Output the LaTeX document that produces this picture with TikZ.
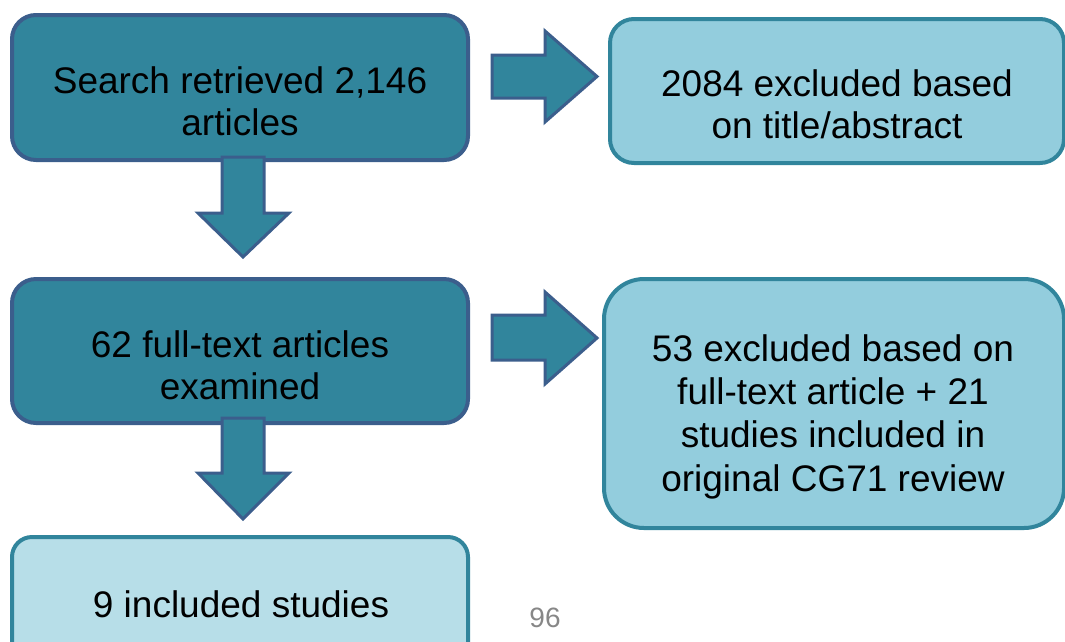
\documentclass[tikz,border=0pt]{standalone}
\usepackage{fontspec}
\setmainfont{Liberation Sans}
\definecolor{teal1}{HTML}{31859C}
\definecolor{navy1}{HTML}{3B5E8C}
\definecolor{light1}{HTML}{93CDDD}
\definecolor{light2}{HTML}{B7DEE8}
\begin{document}
\begin{tikzpicture}[x=1pt,y=-1pt,
  darkbox/.style={draw=navy1,fill=teal1,line width=4pt,rounded corners=24pt,inner sep=0pt},
  lightbox/.style={draw=teal1,fill=light1,line width=4pt,rounded corners=24pt,inner sep=0pt},
  palebox/.style={draw=teal1,fill=light2,line width=4pt,rounded corners=20pt,inner sep=0pt},
  boxtext/.style={inner sep=0pt,align=center,font=\fontsize{37}{42}\selectfont},
  blockarrow/.style={draw=navy1,fill=teal1,line width=3pt}]
\useasboundingbox (0,0) rectangle (1065,641);
\clip (0,0) rectangle (1065,641);
% boxes
\node[darkbox,minimum width=456pt,minimum height=145pt] (b1) at (240,87.5) {};
\node[lightbox,minimum width=454pt,minimum height=144pt] (b2) at (837,91) {};
\node[darkbox,minimum width=456pt,minimum height=144pt] (b3) at (240,351) {};
\node[lightbox,rounded corners=40pt,minimum width=460pt,minimum height=249pt] (b4) at (834,403.5) {};
\node[palebox,minimum width=456pt,minimum height=163pt] (b5) at (240,618.5) {};
% texts
\node[boxtext] (t1) at (240,101) {Search retrieved 2,146\\articles};
\node[boxtext] (t2) at (837,104) {2084 excluded based\\on title/abstract};
\node[boxtext] (t3) at (240,365) {62 full-text articles\\examined};
\node[boxtext,font=\fontsize{37}{43.3}\selectfont] (t4) at (833,416.5) {53 excluded based on\\full-text article + 21\\studies included in\\original CG71 review};
\node[boxtext] (t5) at (241,604.5) {9 included studies};
\node[inner sep=0pt,text=black!47,font=\fontsize{28}{32}\selectfont] (pg) at (545,618) {96};
% block arrows
\draw[blockarrow] (492,55) -- (545,55) -- (545,31) -- (597,76.5) -- (545,122) -- (545,98) -- (492,98) -- cycle;
\draw[blockarrow] (492,315) -- (545,315) -- (545,292) -- (597,338) -- (545,384) -- (545,360) -- (492,360) -- cycle;
\draw[blockarrow] (222,157) -- (264,157) -- (264,213) -- (289,213) -- (243,257) -- (198,213) -- (222,213) -- cycle;
\draw[blockarrow] (222,418) -- (264,418) -- (264,473) -- (289,473) -- (243,519) -- (198,473) -- (222,473) -- cycle;
\end{tikzpicture}
\end{document}
